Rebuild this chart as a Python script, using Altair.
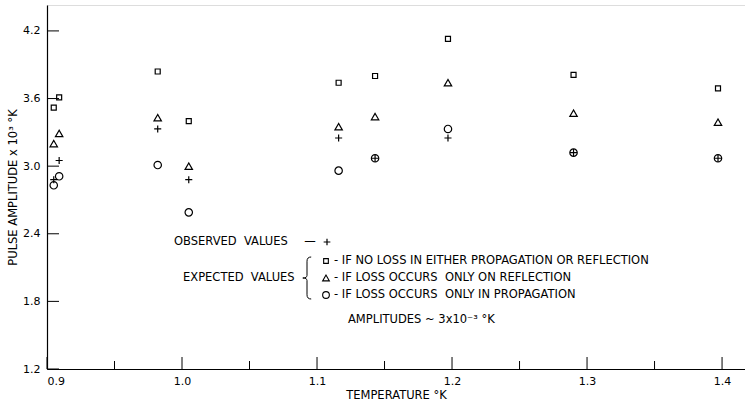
import altair as alt
import pandas as pd

# ---- data ----
temperature = [0.905, 0.909, 0.982, 1.005, 1.116, 1.143, 1.197, 1.290, 1.397]
observed    = [2.88, 3.05, 3.33, 2.88, 3.25, 3.07, 3.25, 3.12, 3.07]
no_loss     = [3.52, 3.61, 3.84, 3.40, 3.74, 3.80, 4.13, 3.81, 3.69]
refl_loss   = [3.20, 3.29, 3.43, 3.00, 3.35, 3.44, 3.74, 3.47, 3.39]
prop_loss   = [2.83, 2.91, 3.01, 2.59, 2.96, 3.07, 3.33, 3.12, 3.07]

x_major = [0.9, 1.0, 1.1, 1.2, 1.3, 1.4]
x_minor = [0.95, 1.05, 1.15, 1.25, 1.35]
y_major = [1.2, 1.8, 2.4, 3.0, 3.6, 4.2]

NB = "\u00a0"
legend_observed = "OBSERVED" + NB * 2 + "VALUES"
legend_expected = "EXPECTED" + NB * 2 + "VALUES"
legend_lines = [
    "- IF NO LOSS IN EITHER PROPAGATION OR REFLECTION",
    "- IF LOSS OCCURS" + NB * 2 + "ONLY ON REFLECTION",
    "- IF LOSS OCCURS" + NB * 2 + "ONLY IN PROPAGATION",
]
amp_note = "AMPLITUDES ~ 3x10⁻³ °K"

FONT = "DejaVu Sans"
FS = 11.5
W, H = 698, 364
XD = [0.9, 1.417]
YD = [1.2, 4.43]

df = pd.DataFrame({"T": temperature, "obs": observed, "nl": no_loss,
                   "rl": refl_loss, "pl": prop_loss})

xs = alt.Scale(domain=XD, nice=False, zero=False)
ys = alt.Scale(domain=YD, nice=False, zero=False)

base = alt.Chart(df)
PLUS = "M-1,0H1M0,-1V1"
BRACE = "M0.2,-1Q0,-1 0,-0.8L0,-0.12Q0,0 -0.2,0Q0,0 0,0.12L0,0.8Q0,1 0.2,1"

def pts(field, shape, size):
    return base.mark_point(filled=False, stroke="black", strokeWidth=1.2, opacity=1,
                           shape=shape, size=size).encode(
        x=alt.X("T:Q", scale=xs,
                axis=alt.Axis(values=x_major, format=".1f", ticks=False, grid=False,
                              domainColor="black", domainWidth=1.2,
                              labelFont=FONT, labelFontSize=11, labelColor="black",
                              labelPadding=6, title="TEMPERATURE °K",
                              titleFont=FONT, titleFontSize=11.5, titleFontWeight="normal",
                              titleColor="black", titlePadding=3)),
        y=alt.Y(f"{field}:Q", scale=ys,
                axis=alt.Axis(values=y_major, format=".1f", ticks=False, grid=False,
                              domainColor="black", domainWidth=1.2,
                              labelFont=FONT, labelFontSize=11, labelColor="black",
                              labelPadding=7, title="PULSE AMPLITUDE x 10³ °K",
                              titleFont=FONT, titleFontSize=11.5, titleFontWeight="normal",
                              titleColor="black", titlePadding=4)),
    )

squares = pts("nl", "square", 25)
triangles = pts("rl", "triangle-up", 55)
circles = pts("pl", "circle", 55)
pluses = pts("obs", PLUS, 50)

xt_major = alt.Chart(pd.DataFrame({"v": x_major})).mark_rule(color="black", strokeWidth=1).encode(
    x=alt.X("v:Q", scale=xs), y=alt.value(H), y2=alt.value(H - 12))
xt_minor = alt.Chart(pd.DataFrame({"v": x_minor})).mark_rule(color="black", strokeWidth=1).encode(
    x=alt.X("v:Q", scale=xs), y=alt.value(H), y2=alt.value(H - 8))
yt = alt.Chart(pd.DataFrame({"v": y_major})).mark_rule(color="black", strokeWidth=1).encode(
    y=alt.Y("v:Q", scale=ys), x=alt.value(0), x2=alt.value(12))

def label(txt, x, y, size=FS, align="left"):
    return alt.Chart(pd.DataFrame({"t": [txt]})).mark_text(
        font=FONT, fontSize=size, align=align, baseline="middle", color="black").encode(
        text="t:N", x=alt.value(x), y=alt.value(y))

def sym(shape, x, y, size, sw=1.1):
    return alt.Chart(pd.DataFrame({"t": [0]})).mark_point(
        filled=False, stroke="black", strokeWidth=sw, opacity=1, shape=shape, size=size).encode(
        x=alt.value(x), y=alt.value(y))

ann = [
    label(legend_observed, 127, 237),
    label("—", 263, 237, align="center"),
    sym(PLUS, 280, 237, 45, 1.2),
    label(legend_expected, 136, 273),
    sym(BRACE, 260, 273, 1764, 1.0),
    sym("square", 279, 256, 22),
    sym("triangle-up", 279, 273, 45),
    sym("circle", 279, 290, 45),
    label(legend_lines[0], 287, 256),
    label(legend_lines[1], 287, 273),
    label(legend_lines[2], 287, 290),
    label(amp_note, 301, 315),
]

chart = alt.layer(xt_major, xt_minor, yt, squares, triangles, circles, pluses, *ann).properties(
    width=W, height=H,
    autosize=alt.AutoSizeParams(type="none"),
    padding={"left": 47, "top": 5, "right": 0, "bottom": 42},
).configure_view(stroke=None).configure(background="white")

chart.save("out.html", embed_options={"renderer": "svg", "actions": False})
